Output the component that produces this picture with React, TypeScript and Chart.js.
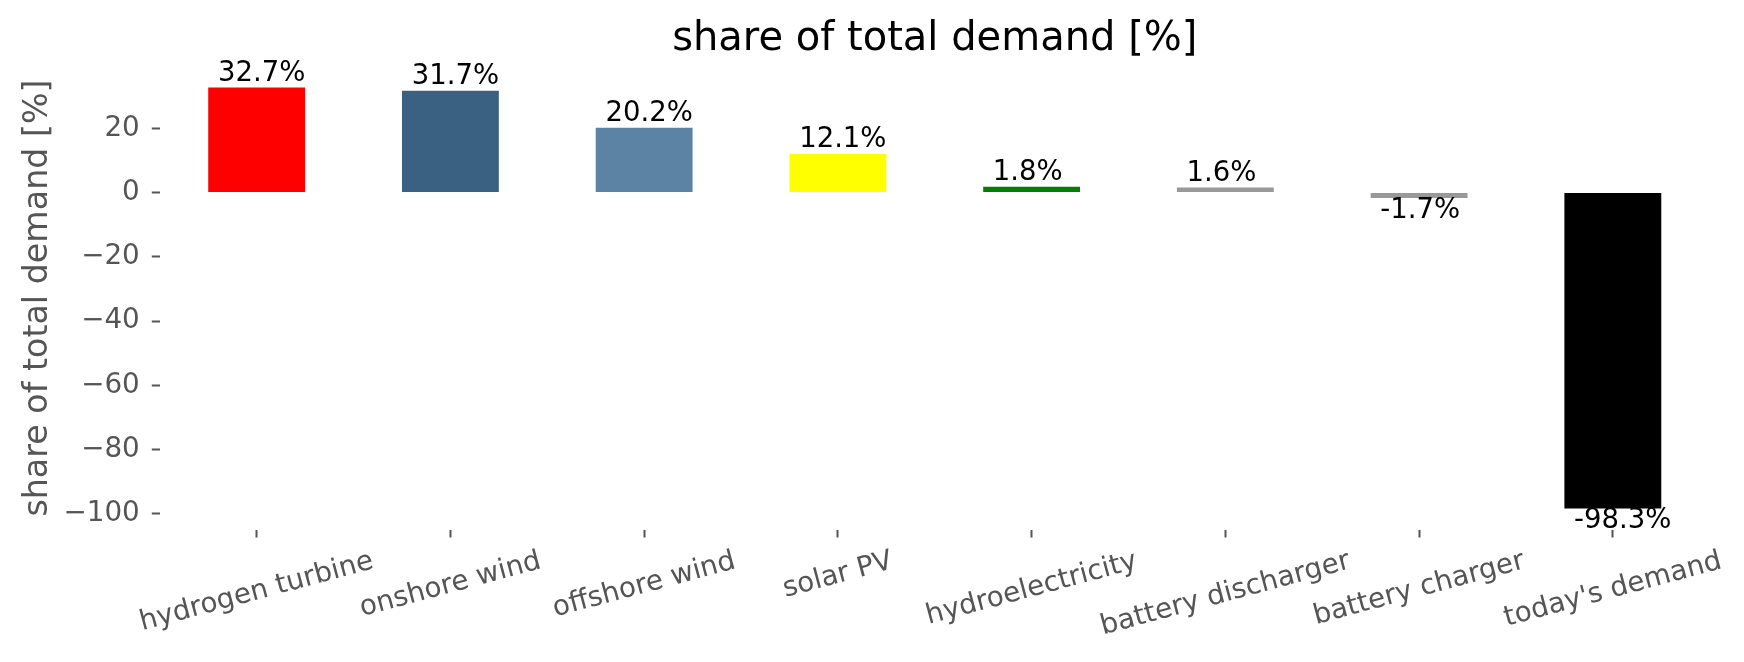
import React, { useEffect, useRef } from 'react';
import { Chart, registerables } from 'chart.js';

Chart.register(...registerables);

const CATEGORIES = [
  'hydrogen turbine',
  'onshore wind',
  'offshore wind',
  'solar PV',
  'hydroelectricity',
  'battery discharger',
  'battery charger',
  "today's demand",
];
const SHARES = [32.7, 31.7, 20.2, 12.1, 1.8, 1.6, -1.7, -98.3];
const BAR_COLORS = ['#ff0000', '#3b6182', '#5c83a3', '#ffff00', '#008000', '#999999', '#999999', '#000000'];
const Y_TICKS = [-100, -80, -60, -40, -20, 0, 20];
const TITLE = 'share of total demand [%]';
const Y_LABEL = 'share of total demand [%]';

const FONT = "'DejaVu Sans', 'Liberation Sans', sans-serif";
const TICK_COLOR = '#555555';

const dataMax = Math.max(...SHARES);
const dataMin = Math.min(...SHARES);
const span = dataMax - dataMin;
const Y_MIN = dataMin - 0.05 * span;
const Y_MAX = dataMax + 0.05 * span;

const annotatePlugin = {
  id: 'annotate',
  afterDraw(chart: any) {
    const ctx = chart.ctx as CanvasRenderingContext2D;
    const xs = chart.scales.x;
    const meta = chart.getDatasetMeta(0);
    ctx.save();
    // bar value labels
    ctx.font = `27.5px ${FONT}`;
    ctx.fillStyle = '#000000';
    ctx.textAlign = 'left';
    ctx.textBaseline = 'alphabetic';
    SHARES.forEach((v, i) => {
      const bar = meta.data[i];
      const px = xs.getPixelForValue(i - 0.2);
      const py = v >= 0 ? bar.y - 6.7 : bar.y + 19.7;
      ctx.fillText(`${v.toFixed(1)}%`, px, py);
    });
    // rotated category labels, centered on ticks
    ctx.font = `27.8px ${FONT}`;
    ctx.fillStyle = TICK_COLOR;
    const theta = (15 * Math.PI) / 180;
    const H = 27.8;
    const top = xs.top + 8 + 10;
    CATEGORIES.forEach((c, i) => {
      const L = ctx.measureText(c).width;
      const h = L * Math.sin(theta) + H * Math.cos(theta);
      const cx = xs.getPixelForValue(i);
      const cy = top + h / 2;
      ctx.save();
      ctx.translate(cx, cy);
      ctx.rotate(-theta);
      ctx.textAlign = 'center';
      ctx.textBaseline = 'middle';
      ctx.fillText(c, 0, 0);
      ctx.restore();
    });
    ctx.restore();
  },
};

export default function App() {
  const canvasRef = useRef<HTMLCanvasElement | null>(null);

  useEffect(() => {
    if (!canvasRef.current) return;
    const chart = new Chart(canvasRef.current, {
      type: 'bar',
      data: {
        labels: CATEGORIES,
        datasets: [
          {
            data: SHARES,
            backgroundColor: BAR_COLORS,
            borderWidth: 0,
            barPercentage: 0.5,
            categoryPercentage: 1,
          },
        ],
      },
      options: {
        responsive: false,
        animation: false,
        devicePixelRatio: 1,
        layout: { padding: { left: 0, right: 34.3, top: 0, bottom: 0 } },
        plugins: {
          legend: { display: false },
          tooltip: { enabled: false },
          title: {
            display: true,
            text: TITLE,
            color: '#000000',
            font: { family: FONT, size: 40, weight: 'normal' },
            padding: { top: 16, bottom: 2.5 },
            fullSize: false,
          },
        },
        scales: {
          x: {
            type: 'category',
            offset: true,
            border: { display: false },
            grid: {
              display: true,
              drawOnChartArea: false,
              drawTicks: true,
              tickLength: 8,
              tickColor: TICK_COLOR,
              tickWidth: 2,
              offset: false,
            },
            ticks: { display: false },
            afterFit(scale: any) {
              scale.height = 132.5;
            },
          },
          y: {
            type: 'linear',
            min: Y_MIN,
            max: Y_MAX,
            border: { display: false },
            grid: {
              display: true,
              drawOnChartArea: false,
              drawTicks: true,
              tickLength: 8,
              tickColor: TICK_COLOR,
              tickWidth: 2,
            },
            afterBuildTicks(scale: any) {
              scale.ticks = Y_TICKS.map((v) => ({ value: v }));
            },
            ticks: {
              color: TICK_COLOR,
              font: { family: FONT, size: 27.8 },
              padding: 12,
              callback: (v: any) => (Number(v) < 0 ? '\u2212' + Math.abs(Number(v)) : String(v)),
            },
            title: {
              display: true,
              text: Y_LABEL,
              color: TICK_COLOR,
              font: { family: FONT, size: 33.3 },
              padding: { top: 18, bottom: 0 },
            },
            afterFit(scale: any) {
              scale.width = 159.8;
            },
          },
        },
      },
      plugins: [annotatePlugin],
    } as any);
    return () => chart.destroy();
  }, []);

  return (
    <div style={{ position: 'fixed', left: 0, top: 0, width: 1744, height: 662, background: '#ffffff' }}>
      <canvas ref={canvasRef} width={1744} height={662} style={{ width: 1744, height: 662, display: 'block' }} />
    </div>
  );
}
